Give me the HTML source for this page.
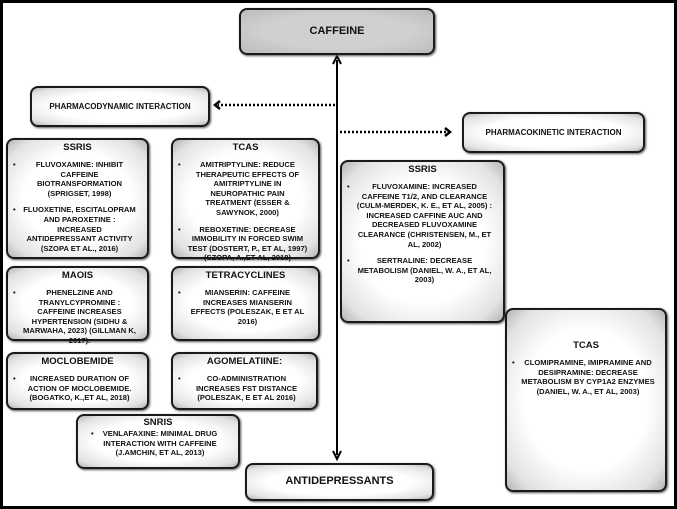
<!DOCTYPE html>
<html><head><meta charset="utf-8"><style>
*{margin:0;padding:0;box-sizing:border-box}
body{width:677px;height:509px;background:#fff;position:relative;overflow:hidden;font-family:"Liberation Sans",sans-serif;font-weight:bold;color:#111}
.frame{position:absolute;left:0;top:0;width:677px;height:509px;border:3px solid #000}
.b{position:absolute;border:2.5px solid #1a1a1a;border-radius:8px;background:radial-gradient(ellipse at center,#fff 55%,#e2e2e2 85%,#b5b5b5 100%);box-shadow:1px 1px 2px #555;text-align:center;font-size:7.6px;line-height:9.6px;padding:2px 10px 2px 14px}
.b h{display:block;font-size:9.5px;line-height:11px;margin-bottom:7px;margin-left:-4px}
.b p{position:relative;margin-bottom:7px}
.b p:before{content:"•";position:absolute;left:-9px;top:0}
.lbl{display:flex;align-items:center;justify-content:center;font-size:8px;padding:2px 4px}
</style></head><body>
<div class="frame"></div>
<svg width="677" height="509" style="position:absolute;left:0;top:0">
<line x1="337" y1="60" x2="337" y2="455" stroke="#000" stroke-width="2"/>
<path d="M333,64 L337,56 L341,64" fill="none" stroke="#000" stroke-width="2"/>
<path d="M333,451 L337,459 L341,451" fill="none" stroke="#000" stroke-width="2"/>
<line x1="335" y1="105" x2="218" y2="105" stroke="#000" stroke-width="2.5" stroke-dasharray="2,2"/>
<path d="M220,101 L215,105 L220,109" fill="none" stroke="#000" stroke-width="2.5"/>
<line x1="340" y1="132" x2="446" y2="132" stroke="#000" stroke-width="2.5" stroke-dasharray="2,2"/>
<path d="M445,128 L450,132 L445,136" fill="none" stroke="#000" stroke-width="2.5"/>
</svg>
<div class="b lbl" style="left:239px;top:8px;width:196px;height:47px;background:radial-gradient(ellipse at center,#d0d0d0 55%,#bbb 100%);font-size:11px">CAFFEINE</div>
<div class="b lbl" style="left:30px;top:86px;width:180px;height:41px">PHARMACODYNAMIC INTERACTION</div>
<div class="b lbl" style="left:462px;top:112px;width:183px;height:41px">PHARMACOKINETIC INTERACTION</div>
<div class="b" style="left:6px;top:138px;width:143px;height:121px"><h>SSRIS</h><p>FLUVOXAMINE: INHIBIT CAFFEINE BIOTRANSFORMATION (SPRIGSET, 1998)</p><p>FLUOXETINE, ESCITALOPRAM AND PAROXETINE : INCREASED ANTIDEPRESSANT ACTIVITY (SZOPA ET AL., 2016)</p></div>
<div class="b" style="left:171px;top:138px;width:149px;height:121px"><h>TCAS</h><p>AMITRIPTYLINE: REDUCE THERAPEUTIC EFFECTS OF AMITRIPTYLINE IN NEUROPATHIC PAIN TREATMENT (ESSER &amp; SAWYNOK, 2000)</p><p>REBOXETINE: DECREASE IMMOBILITY IN FORCED SWIM TEST (DOSTERT, P., ET AL, 1997) (SZOPA, A.,ET AL, 2018)</p></div>
<div class="b" style="left:6px;top:266px;width:143px;height:75px"><h>MAOIS</h><p>PHENELZINE AND TRANYLCYPROMINE : CAFFEINE INCREASES HYPERTENSION (SIDHU &amp; MARWAHA, 2023) (GILLMAN K, 2017).</p></div>
<div class="b" style="left:171px;top:266px;width:149px;height:75px"><h>TETRACYCLINES</h><p>MIANSERIN: CAFFEINE INCREASES MIANSERIN EFFECTS (POLESZAK, E ET AL 2016)</p></div>
<div class="b" style="left:6px;top:352px;width:143px;height:58px"><h>MOCLOBEMIDE</h><p>INCREASED DURATION OF ACTION OF MOCLOBEMIDE. (BOGATKO, K.,ET AL, 2018)</p></div>
<div class="b" style="left:171px;top:352px;width:147px;height:58px"><h>AGOMELATIINE:</h><p>CO-ADMINISTRATION INCREASES FST DISTANCE (POLESZAK, E ET AL 2016)</p></div>
<div class="b" style="left:76px;top:414px;width:164px;height:55px;padding-top:1px;padding-left:22px;padding-right:18px"><h style="margin-bottom:1px">SNRIS</h><p>VENLAFAXINE: MINIMAL DRUG INTERACTION WITH CAFFEINE (J.AMCHIN, ET AL, 2013)</p></div>
<div class="b lbl" style="left:245px;top:463px;width:189px;height:38px;font-size:11px">ANTIDEPRESSANTS</div>
<div class="b" style="left:340px;top:160px;width:165px;height:163px"><h>SSRIS</h><p>FLUVOXAMINE: INCREASED CAFFEINE T1/2, AND CLEARANCE (CULM-MERDEK, K. E., ET AL, 2005) : INCREASED CAFFINE AUC AND DECREASED FLUVOXAMINE CLEARANCE (CHRISTENSEN, M., ET AL, 2002)</p><p>SERTRALINE: DECREASE METABOLISM (DANIEL, W. A., ET AL, 2003)</p></div>
<div class="b" style="left:505px;top:308px;width:162px;height:184px;padding-top:30px"><h>TCAS</h><p>CLOMIPRAMINE, IMIPRAMINE AND DESIPRAMINE: DECREASE METABOLISM BY CYP1A2 ENZYMES (DANIEL, W. A., ET AL, 2003)</p></div>
</body></html>
